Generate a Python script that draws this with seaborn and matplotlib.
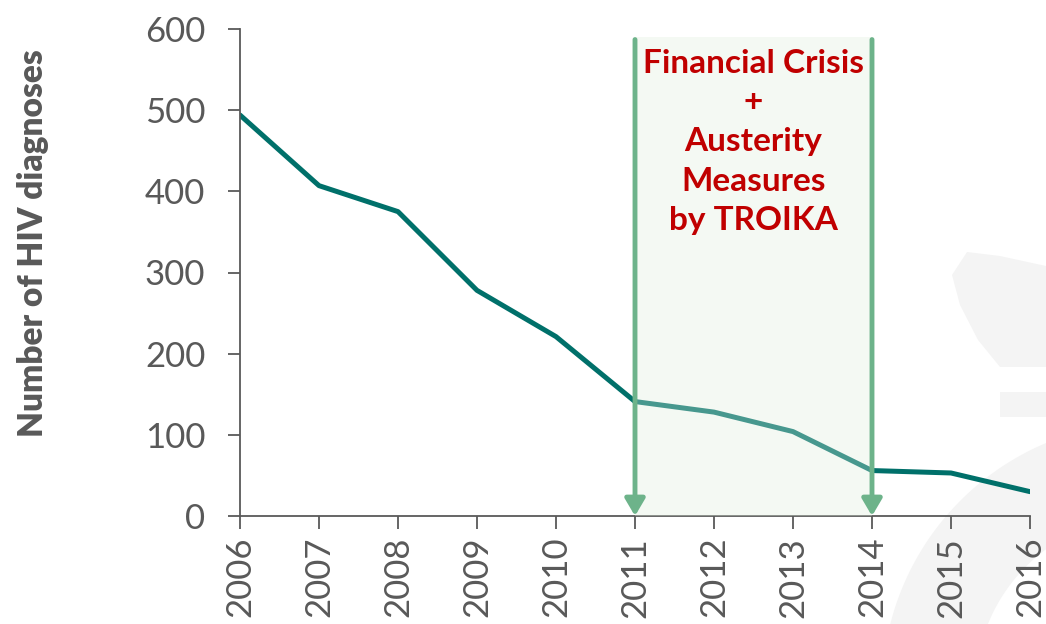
import matplotlib
matplotlib.use("Agg")
import matplotlib.pyplot as plt
import matplotlib.patches as mpatches
import numpy as np
import pandas as pd
import seaborn as sns

# Annual HIV diagnoses
years = [2006, 2007, 2008, 2009, 2010, 2011, 2012, 2013, 2014, 2015, 2016]
diagnoses = [494, 407, 375, 278, 221, 141, 128, 104, 56, 53, 30]

# Crisis period
crisis_start = 2011
crisis_end = 2014
crisis_label = "Financial Crisis\n+\nAusterity\nMeasures\nby TROIKA"

y_ticks = [0, 100, 200, 300, 400, 500, 600]
y_label = "Number of HIV diagnoses"

df = pd.DataFrame({"year": years, "diagnoses": diagnoses})

sns.set_theme(style="white")
plt.rcParams["font.family"] = ["Lato", "DejaVu Sans"]

W, H = 1046, 624
fig = plt.figure(figsize=(W / 100, H / 100), dpi=100)
fig.patch.set_facecolor("white")

# faint watermark shapes in the lower right corner
def px(x, y):
    return (x / W, 1 - y / H)

wm = "#f4f4f4"
blob = [px(967, 252), px(1000, 256), px(1046, 266), px(1046, 367), px(1000, 367),
        px(978, 340), px(960, 305), px(952, 275)]
fig.patches.append(mpatches.Polygon(blob, closed=True, transform=fig.transFigure,
                                    facecolor=wm, edgecolor="none", zorder=-5))
fig.patches.append(mpatches.Rectangle(px(1000, 417), 46 / W, 25 / H, transform=fig.transFigure,
                                      facecolor=wm, edgecolor="none", zorder=-5))
theta = np.linspace(np.pi * 0.93, np.pi * 1.5, 80)
cx, cy, r_out, r_in = 1150, 690, 268, 175
outer = [px(cx + r_out * np.cos(t), cy + r_out * np.sin(t)) for t in theta]
inner = [px(cx + r_in * np.cos(t), cy + r_in * np.sin(t)) for t in theta[::-1]]
fig.patches.append(mpatches.Polygon(outer + inner, closed=True, transform=fig.transFigure,
                                    facecolor=wm, edgecolor="none", zorder=-5))

ax = fig.add_axes([240 / W, 1 - 516 / H, (1030 - 240) / W, (516 - 29) / H])
ax.patch.set_alpha(0)

teal = "#00706a"
sns.lineplot(data=df, x="year", y="diagnoses", ax=ax, color=teal, linewidth=3.6,
             zorder=2)

# shaded crisis period drawn over the line so it lightens it
ax.axvspan(crisis_start, crisis_end, ymin=0, ymax=590 / 600, facecolor="#dfeedc",
           alpha=0.32, edgecolor="none", zorder=3)

arrow_color = "#6db38a"
for xv in (crisis_start, crisis_end):
    ax.annotate("", xy=(xv, 0), xytext=(xv, 587),
                arrowprops=dict(arrowstyle="-|>,head_length=0.85,head_width=0.5",
                                color=arrow_color, lw=3.5, shrinkA=0, shrinkB=0),
                zorder=4)

ax.text((crisis_start + crisis_end) / 2, 575, crisis_label, ha="center", va="top",
        color="#c00000", fontsize=24, fontweight="bold", linespacing=1.42, zorder=5)

ax.set_xlim(2006, 2016)
ax.set_ylim(0, 600)
ax.set_xticks(years)
ax.set_xticklabels([str(y) for y in years], rotation=90)
ax.set_yticks(y_ticks)
ax.set_xlabel("")
ax.set_ylabel(y_label, fontsize=24, fontweight="heavy", color="#595959")
ax.yaxis.label.set_va("center")
ax.yaxis.set_label_coords(-0.262, 0.56)

gray = "#595959"
for side in ("top", "right"):
    ax.spines[side].set_visible(False)
for side in ("left", "bottom"):
    ax.spines[side].set_color(gray)
    ax.spines[side].set_linewidth(1.3)
ax.tick_params(axis="both", which="major", direction="out", length=9, width=1.3,
               color=gray, labelcolor=gray, labelsize=25)
ax.tick_params(axis="y", pad=16)
ax.tick_params(axis="x", pad=6)
ax.tick_params(left=True, bottom=True)

fig.savefig("out.png", dpi=100, facecolor="white")
